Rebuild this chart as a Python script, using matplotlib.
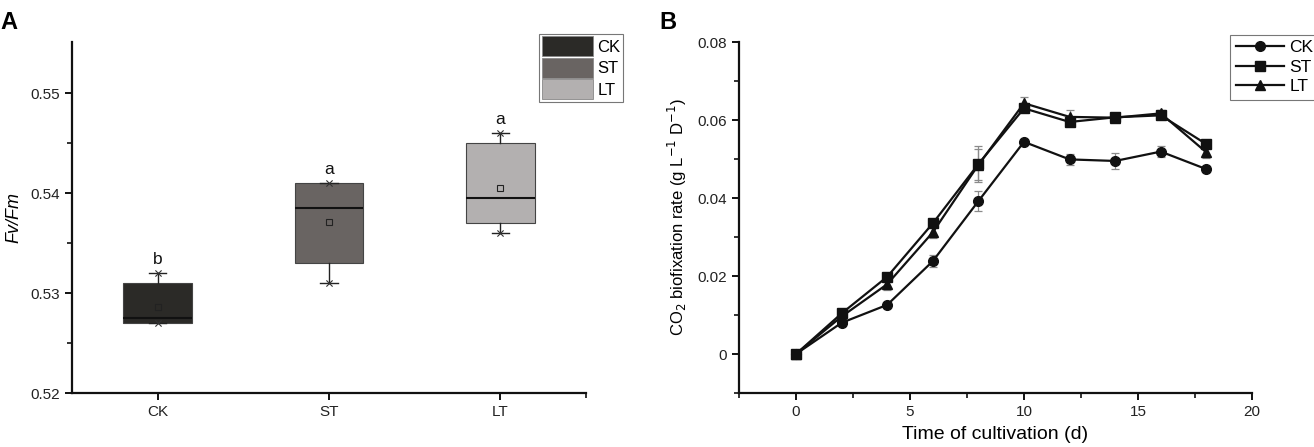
import matplotlib
matplotlib.use("Agg")
import matplotlib.pyplot as plt
import numpy as np
from matplotlib.patches import Patch
from matplotlib.ticker import MultipleLocator, FixedLocator

plt.rcParams['font.family'] = ['Liberation Sans', 'DejaVu Sans']

# --- panel A: Fv/Fm box summary ---
groups = ['CK', 'ST', 'LT']
box_colors = ['#2b2a27', '#696462', '#b3b0b0']
q1 = [0.5270, 0.5330, 0.5370]
q3 = [0.5310, 0.5410, 0.5450]
med = [0.5275, 0.5385, 0.5395]
mean = [0.5286, 0.5371, 0.5405]
whis_lo = [0.5270, 0.5310, 0.5360]
whis_hi = [0.5320, 0.5410, 0.5460]
letters = ['b', 'a', 'a']

# --- panel B: CO2 biofixation rate ---
days = [0, 2, 4, 6, 8, 10, 12, 14, 16, 18]
ck = [0.0, 0.0080, 0.0126, 0.0238, 0.0392, 0.0544, 0.0499, 0.0495, 0.0519, 0.0474]
st = [0.0, 0.0104, 0.0198, 0.0335, 0.0487, 0.0630, 0.0595, 0.0607, 0.0612, 0.0538]
lt = [0.0, 0.0096, 0.0179, 0.0312, 0.0485, 0.0643, 0.0608, 0.0606, 0.0617, 0.0517]
ck_err = [0.0, 0.0005, 0.0005, 0.0016, 0.0025, 0.0005, 0.0014, 0.0020, 0.0015, 0.0008]
st_err = [0.0, 0.0005, 0.0008, 0.0010, 0.0047, 0.0010, 0.0010, 0.0008, 0.0008, 0.0008]
lt_err = [0.0, 0.0005, 0.0015, 0.0015, 0.0040, 0.0015, 0.0017, 0.0008, 0.0008, 0.0015]

fig = plt.figure(figsize=(13.14, 4.47), dpi=100)
axA = fig.add_axes([0.0548, 0.1208, 0.3912, 0.7852])
axB = fig.add_axes([0.5624, 0.1208, 0.3904, 0.7852])

for ax in (axA, axB):
    for s in ('top', 'right'):
        ax.spines[s].set_visible(False)
    for s in ('left', 'bottom'):
        ax.spines[s].set_linewidth(1.6)
        ax.spines[s].set_color('#111111')
    ax.tick_params(which='major', direction='out', length=5, width=1.4, labelsize=11, colors='#111111', labelcolor='#222222')
    ax.tick_params(which='minor', direction='out', length=3.5, width=1.2, colors='#111111')

# panel A
pos = np.arange(1, len(groups) + 1)
stats = []
for i, g in enumerate(groups):
    stats.append({'label': g, 'q1': q1[i], 'q3': q3[i], 'med': med[i], 'mean': mean[i],
                  'whislo': whis_lo[i], 'whishi': whis_hi[i], 'fliers': []})
bp = axA.bxp(stats, positions=pos, widths=0.4, patch_artist=True, showmeans=True,
             capwidths=0.1,
             boxprops=dict(linewidth=0.8, edgecolor='#444444'),
             medianprops=dict(color='#111111', linewidth=1.5),
             whiskerprops=dict(color='#222222', linewidth=1.0),
             capprops=dict(color='#222222', linewidth=1.0),
             meanprops=dict(marker='s', markersize=4, markerfacecolor='none',
                            markeredgecolor='#222222', markeredgewidth=0.8))
for patch, c in zip(bp['boxes'], box_colors):
    patch.set_facecolor(c)
axA.scatter(pos, whis_lo, marker='x', s=20, color='#333333', linewidths=0.8, zorder=4)
axA.scatter(pos, whis_hi, marker='x', s=20, color='#333333', linewidths=0.8, zorder=4)
for p, hi, lab in zip(pos, whis_hi, letters):
    axA.text(p, hi + 0.0006, lab, ha='center', va='bottom', fontsize=12.5, color='#111111')

axA.set_xlim(0.5, 3.5)
axA.set_ylim(0.52, 0.5551)
axA.set_xticks(pos)
axA.set_xticklabels(groups)
axA.xaxis.set_minor_locator(FixedLocator([3.5]))
axA.set_yticks([0.52, 0.53, 0.54, 0.55])
axA.set_yticklabels(['0.52', '0.53', '0.54', '0.55'])
axA.yaxis.set_minor_locator(FixedLocator([0.525, 0.535, 0.545]))
axA.set_ylabel('Fv/Fm', fontsize=13, style='italic', labelpad=6)

handlesA = [Patch(facecolor=c, edgecolor='#888888', linewidth=0.6) for c in box_colors]
legA = axA.legend(handlesA, groups, loc='upper left', bbox_to_anchor=(0.9086, 1.023),
                  fontsize=12, frameon=True, fancybox=False, handlelength=3.1,
                  handleheight=1.45, handletextpad=0.25, labelspacing=0.1,
                  borderpad=0.15, borderaxespad=0)
legA.get_frame().set_edgecolor('#555555')
legA.get_frame().set_linewidth(0.8)

# panel B
series = [(ck, ck_err, 'o', 'CK'), (st, st_err, 's', 'ST'), (lt, lt_err, '^', 'LT')]
lines = []
for vals, errs, mk, lab in series:
    axB.errorbar(days, vals, yerr=errs, fmt='none', ecolor='#8a8a8a', elinewidth=0.9,
                 capsize=3, capthick=0.9, zorder=2)
    ln, = axB.plot(days, vals, color='#111111', linewidth=1.6, marker=mk,
                   markersize=7 if mk != 's' else 6.5, label=lab, zorder=3)
    lines.append(ln)

axB.set_xlim(-2.5, 20)
axB.set_ylim(-0.01, 0.08)
axB.xaxis.set_major_locator(MultipleLocator(5))
axB.xaxis.set_minor_locator(FixedLocator([-2.5, 2.5, 7.5, 12.5, 17.5]))
axB.set_yticks([0, 0.02, 0.04, 0.06, 0.08])
axB.set_yticklabels(['0', '0.02', '0.04', '0.06', '0.08'])
axB.yaxis.set_minor_locator(FixedLocator([-0.01, 0.01, 0.03, 0.05, 0.07]))
axB.set_xlabel('Time of cultivation (d)', fontsize=14, labelpad=5)
axB.set_ylabel('CO$_2$ biofixation rate (g L$^{-1}$ D$^{-1}$)', fontsize=12, labelpad=6)

legB = axB.legend(lines, ['CK', 'ST', 'LT'], loc='upper left', bbox_to_anchor=(0.958, 1.02),
                  fontsize=12.5, frameon=True, fancybox=False, handlelength=2.8,
                  handletextpad=0.3, labelspacing=0.25, borderpad=0.3,
                  borderaxespad=0, numpoints=1)
legB.get_frame().set_edgecolor('#555555')
legB.get_frame().set_linewidth(0.8)

fig.text(0.0, 0.975, 'A', fontsize=17, fontweight='bold', va='top', ha='left')
fig.text(0.502, 0.975, 'B', fontsize=17, fontweight='bold', va='top', ha='left')

fig.savefig('out.png', dpi=100)
